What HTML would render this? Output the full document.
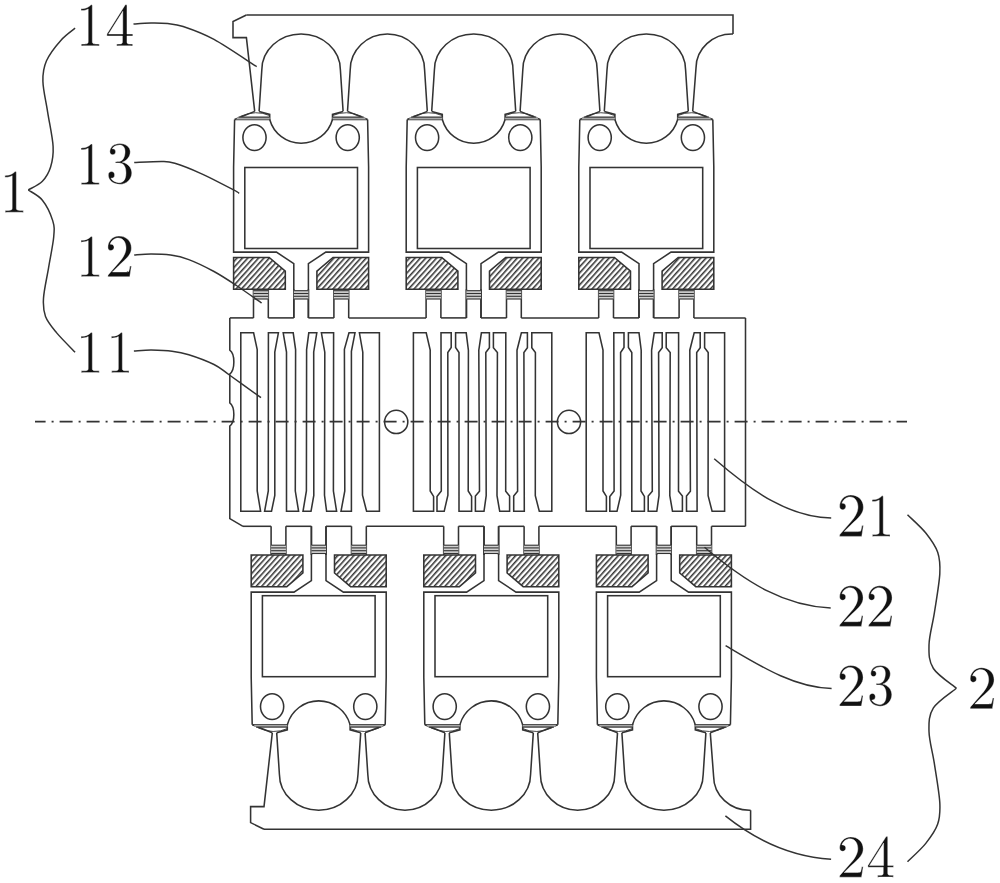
<!DOCTYPE html>
<html><head><meta charset="utf-8"><style>
html,body{margin:0;padding:0;background:#fff;width:1000px;height:883px;overflow:hidden}
svg{display:block}
text{font-family:"Liberation Serif",serif}
</style></head><body>
<svg width="1000" height="883" viewBox="0 0 1000 883">
<defs>
<pattern id="hatch" patternUnits="userSpaceOnUse" width="4" height="4" patternTransform="rotate(42)">
<rect width="4" height="4" fill="#fff"/><line x1="0.75" y1="0" x2="0.75" y2="4" stroke="#333" stroke-width="1.6"/>
</pattern>
<pattern id="hatch2" patternUnits="userSpaceOnUse" width="4" height="4" patternTransform="rotate(-42)">
<rect width="4" height="4" fill="#fff"/><line x1="0.75" y1="0" x2="0.75" y2="4" stroke="#333" stroke-width="1.6"/>
</pattern>
</defs>
<rect width="1000" height="883" fill="#fff"/>
<g fill="none" stroke="#333" stroke-width="1.55" stroke-linejoin="miter">
<g><path d="M246.4,15 H733 V34" />
<path d="M246.4,15 L233,21.6 V37.6 H246.4 L254.7,111.3" />
<path d="M259.1,111.3 L261.8,70 A39.3,36 0 0 1 340.4,70 L343.1,111.3" />
<path d="M347.5,111.3 L350.2,70 A37.2,36 0 0 1 424.6,70 L427.3,111.3" />
<path d="M431.7,111.3 L434.4,70 A39.3,36 0 0 1 513,70 L515.7,111.3" />
<path d="M520.1,111.3 L522.8,70 A37.2,36 0 0 1 597.2,70 L599.9,111.3" />
<path d="M604.3,111.3 L607,70 A39.3,36 0 0 1 685.6,70 L688.3,111.3" />
<path d="M692.7,111.3 L696,68 A36,34 0 0 1 733,34" />
<g transform="translate(0,0)"><path d="M234.6,119.5 L233.6,167 V252.1 H276.4 L293.8,263.6 V317.9" />
<path d="M308.4,317.9 V263.6 L325.8,252.1 H368.6 V167 L367.6,119.5" />
<path d="M234.6,119.5 L254.7,111.4 M259.1,111.4 L269.7,114.4 V119.5 H234.6" />
<path d="M238,117.1 H269.7 V119.5 H236 Z" fill="#a8a8a8" stroke="none"/>
<path d="M238.5,117.1 H269.7" stroke-width="1.2"/>
<path d="M240.5,116.3 Q256,109.5 269.7,115.6" stroke-width="0.9"/>
<path d="M367.6,119.5 L347.5,111.4 M343.1,111.4 L332.5,114.4 V119.5 H367.6" />
<path d="M364.2,117.1 H332.5 V119.5 H366.2 Z" fill="#a8a8a8" stroke="none"/>
<path d="M363.7,117.1 H332.5" stroke-width="1.2"/>
<path d="M361.7,116.3 Q346.2,109.5 332.5,115.6" stroke-width="0.9"/>
<path d="M269.7,119.5 A32.6,32.6 0 0 0 332.5,119.5" />
<ellipse cx="254.5" cy="137.6" rx="11.6" ry="12.9"/>
<ellipse cx="347.7" cy="137.6" rx="11.6" ry="12.9"/>
<rect x="244.8" y="167.5" width="112.7" height="81"/>
<path d="M233.6,257.5 H269.2 L285.3,271.2 V289.2 H233.6 Z" fill="url(#hatch)"/>
<path d="M368.6,257.5 H333 L316.9,271.2 V289.2 H368.6 Z" fill="url(#hatch)"/>
<path d="M253.5,289.2 V317.9 M268.3,289.2 V317.9" />
<path d="M253.5,290.2 H268.3 V299.2 H253.5 Z" fill="#d0d0d0" stroke="none"/>
<path d="M253.5,290.7 H268.3" stroke-width="1.1"/>
<path d="M253.5,293.5 H268.3" stroke-width="1.1"/>
<path d="M253.5,296.3 H268.3" stroke-width="1.1"/>
<path d="M253.5,299.0 H268.3" stroke-width="1.1"/>
<path d="M293.8,289.2 V317.9 M308.4,289.2 V317.9" />
<path d="M293.8,290.2 H308.4 V299.2 H293.8 Z" fill="#d0d0d0" stroke="none"/>
<path d="M293.8,290.7 H308.4" stroke-width="1.1"/>
<path d="M293.8,293.5 H308.4" stroke-width="1.1"/>
<path d="M293.8,296.3 H308.4" stroke-width="1.1"/>
<path d="M293.8,299.0 H308.4" stroke-width="1.1"/>
<path d="M333.9,289.2 V317.9 M348.7,289.2 V317.9" />
<path d="M333.9,290.2 H348.7 V299.2 H333.9 Z" fill="#d0d0d0" stroke="none"/>
<path d="M333.9,290.7 H348.7" stroke-width="1.1"/>
<path d="M333.9,293.5 H348.7" stroke-width="1.1"/>
<path d="M333.9,296.3 H348.7" stroke-width="1.1"/>
<path d="M333.9,299.0 H348.7" stroke-width="1.1"/></g>
<g transform="translate(172.6,0)"><path d="M234.6,119.5 L233.6,167 V252.1 H276.4 L293.8,263.6 V317.9" />
<path d="M308.4,317.9 V263.6 L325.8,252.1 H368.6 V167 L367.6,119.5" />
<path d="M234.6,119.5 L254.7,111.4 M259.1,111.4 L269.7,114.4 V119.5 H234.6" />
<path d="M238,117.1 H269.7 V119.5 H236 Z" fill="#a8a8a8" stroke="none"/>
<path d="M238.5,117.1 H269.7" stroke-width="1.2"/>
<path d="M240.5,116.3 Q256,109.5 269.7,115.6" stroke-width="0.9"/>
<path d="M367.6,119.5 L347.5,111.4 M343.1,111.4 L332.5,114.4 V119.5 H367.6" />
<path d="M364.2,117.1 H332.5 V119.5 H366.2 Z" fill="#a8a8a8" stroke="none"/>
<path d="M363.7,117.1 H332.5" stroke-width="1.2"/>
<path d="M361.7,116.3 Q346.2,109.5 332.5,115.6" stroke-width="0.9"/>
<path d="M269.7,119.5 A32.6,32.6 0 0 0 332.5,119.5" />
<ellipse cx="254.5" cy="137.6" rx="11.6" ry="12.9"/>
<ellipse cx="347.7" cy="137.6" rx="11.6" ry="12.9"/>
<rect x="244.8" y="167.5" width="112.7" height="81"/>
<path d="M233.6,257.5 H269.2 L285.3,271.2 V289.2 H233.6 Z" fill="url(#hatch)"/>
<path d="M368.6,257.5 H333 L316.9,271.2 V289.2 H368.6 Z" fill="url(#hatch)"/>
<path d="M253.5,289.2 V317.9 M268.3,289.2 V317.9" />
<path d="M253.5,290.2 H268.3 V299.2 H253.5 Z" fill="#d0d0d0" stroke="none"/>
<path d="M253.5,290.7 H268.3" stroke-width="1.1"/>
<path d="M253.5,293.5 H268.3" stroke-width="1.1"/>
<path d="M253.5,296.3 H268.3" stroke-width="1.1"/>
<path d="M253.5,299.0 H268.3" stroke-width="1.1"/>
<path d="M293.8,289.2 V317.9 M308.4,289.2 V317.9" />
<path d="M293.8,290.2 H308.4 V299.2 H293.8 Z" fill="#d0d0d0" stroke="none"/>
<path d="M293.8,290.7 H308.4" stroke-width="1.1"/>
<path d="M293.8,293.5 H308.4" stroke-width="1.1"/>
<path d="M293.8,296.3 H308.4" stroke-width="1.1"/>
<path d="M293.8,299.0 H308.4" stroke-width="1.1"/>
<path d="M333.9,289.2 V317.9 M348.7,289.2 V317.9" />
<path d="M333.9,290.2 H348.7 V299.2 H333.9 Z" fill="#d0d0d0" stroke="none"/>
<path d="M333.9,290.7 H348.7" stroke-width="1.1"/>
<path d="M333.9,293.5 H348.7" stroke-width="1.1"/>
<path d="M333.9,296.3 H348.7" stroke-width="1.1"/>
<path d="M333.9,299.0 H348.7" stroke-width="1.1"/></g>
<g transform="translate(345.2,0)"><path d="M234.6,119.5 L233.6,167 V252.1 H276.4 L293.8,263.6 V317.9" />
<path d="M308.4,317.9 V263.6 L325.8,252.1 H368.6 V167 L367.6,119.5" />
<path d="M234.6,119.5 L254.7,111.4 M259.1,111.4 L269.7,114.4 V119.5 H234.6" />
<path d="M238,117.1 H269.7 V119.5 H236 Z" fill="#a8a8a8" stroke="none"/>
<path d="M238.5,117.1 H269.7" stroke-width="1.2"/>
<path d="M240.5,116.3 Q256,109.5 269.7,115.6" stroke-width="0.9"/>
<path d="M367.6,119.5 L347.5,111.4 M343.1,111.4 L332.5,114.4 V119.5 H367.6" />
<path d="M364.2,117.1 H332.5 V119.5 H366.2 Z" fill="#a8a8a8" stroke="none"/>
<path d="M363.7,117.1 H332.5" stroke-width="1.2"/>
<path d="M361.7,116.3 Q346.2,109.5 332.5,115.6" stroke-width="0.9"/>
<path d="M269.7,119.5 A32.6,32.6 0 0 0 332.5,119.5" />
<ellipse cx="254.5" cy="137.6" rx="11.6" ry="12.9"/>
<ellipse cx="347.7" cy="137.6" rx="11.6" ry="12.9"/>
<rect x="244.8" y="167.5" width="112.7" height="81"/>
<path d="M233.6,257.5 H269.2 L285.3,271.2 V289.2 H233.6 Z" fill="url(#hatch)"/>
<path d="M368.6,257.5 H333 L316.9,271.2 V289.2 H368.6 Z" fill="url(#hatch)"/>
<path d="M253.5,289.2 V317.9 M268.3,289.2 V317.9" />
<path d="M253.5,290.2 H268.3 V299.2 H253.5 Z" fill="#d0d0d0" stroke="none"/>
<path d="M253.5,290.7 H268.3" stroke-width="1.1"/>
<path d="M253.5,293.5 H268.3" stroke-width="1.1"/>
<path d="M253.5,296.3 H268.3" stroke-width="1.1"/>
<path d="M253.5,299.0 H268.3" stroke-width="1.1"/>
<path d="M293.8,289.2 V317.9 M308.4,289.2 V317.9" />
<path d="M293.8,290.2 H308.4 V299.2 H293.8 Z" fill="#d0d0d0" stroke="none"/>
<path d="M293.8,290.7 H308.4" stroke-width="1.1"/>
<path d="M293.8,293.5 H308.4" stroke-width="1.1"/>
<path d="M293.8,296.3 H308.4" stroke-width="1.1"/>
<path d="M293.8,299.0 H308.4" stroke-width="1.1"/>
<path d="M333.9,289.2 V317.9 M348.7,289.2 V317.9" />
<path d="M333.9,290.2 H348.7 V299.2 H333.9 Z" fill="#d0d0d0" stroke="none"/>
<path d="M333.9,290.7 H348.7" stroke-width="1.1"/>
<path d="M333.9,293.5 H348.7" stroke-width="1.1"/>
<path d="M333.9,296.3 H348.7" stroke-width="1.1"/>
<path d="M333.9,299.0 H348.7" stroke-width="1.1"/></g></g>
<g transform="translate(17.6,844.2) scale(1,-1)"><path d="M246.4,15 H733 V34" />
<path d="M246.4,15 L233,21.6 V37.6 H246.4 L254.7,111.3" />
<path d="M259.1,111.3 L261.8,70 A39.3,36 0 0 1 340.4,70 L343.1,111.3" />
<path d="M347.5,111.3 L350.2,70 A37.2,36 0 0 1 424.6,70 L427.3,111.3" />
<path d="M431.7,111.3 L434.4,70 A39.3,36 0 0 1 513,70 L515.7,111.3" />
<path d="M520.1,111.3 L522.8,70 A37.2,36 0 0 1 597.2,70 L599.9,111.3" />
<path d="M604.3,111.3 L607,70 A39.3,36 0 0 1 685.6,70 L688.3,111.3" />
<path d="M692.7,111.3 L696,68 A36,34 0 0 1 733,34" />
<g transform="translate(0,0)"><path d="M234.6,119.5 L233.6,167 V252.1 H276.4 L293.8,263.6 V317.9" />
<path d="M308.4,317.9 V263.6 L325.8,252.1 H368.6 V167 L367.6,119.5" />
<path d="M234.6,119.5 L254.7,111.4 M259.1,111.4 L269.7,114.4 V119.5 H234.6" />
<path d="M238,117.1 H269.7 V119.5 H236 Z" fill="#a8a8a8" stroke="none"/>
<path d="M238.5,117.1 H269.7" stroke-width="1.2"/>
<path d="M240.5,116.3 Q256,109.5 269.7,115.6" stroke-width="0.9"/>
<path d="M367.6,119.5 L347.5,111.4 M343.1,111.4 L332.5,114.4 V119.5 H367.6" />
<path d="M364.2,117.1 H332.5 V119.5 H366.2 Z" fill="#a8a8a8" stroke="none"/>
<path d="M363.7,117.1 H332.5" stroke-width="1.2"/>
<path d="M361.7,116.3 Q346.2,109.5 332.5,115.6" stroke-width="0.9"/>
<path d="M269.7,119.5 A32.6,32.6 0 0 0 332.5,119.5" />
<ellipse cx="254.5" cy="137.6" rx="11.6" ry="12.9"/>
<ellipse cx="347.7" cy="137.6" rx="11.6" ry="12.9"/>
<rect x="244.8" y="167.5" width="112.7" height="81"/>
<path d="M233.6,257.5 H269.2 L285.3,271.2 V289.2 H233.6 Z" fill="url(#hatch2)"/>
<path d="M368.6,257.5 H333 L316.9,271.2 V289.2 H368.6 Z" fill="url(#hatch2)"/>
<path d="M253.5,289.2 V317.9 M268.3,289.2 V317.9" />
<path d="M253.5,290.2 H268.3 V299.2 H253.5 Z" fill="#d0d0d0" stroke="none"/>
<path d="M253.5,290.7 H268.3" stroke-width="1.1"/>
<path d="M253.5,293.5 H268.3" stroke-width="1.1"/>
<path d="M253.5,296.3 H268.3" stroke-width="1.1"/>
<path d="M253.5,299.0 H268.3" stroke-width="1.1"/>
<path d="M293.8,289.2 V317.9 M308.4,289.2 V317.9" />
<path d="M293.8,290.2 H308.4 V299.2 H293.8 Z" fill="#d0d0d0" stroke="none"/>
<path d="M293.8,290.7 H308.4" stroke-width="1.1"/>
<path d="M293.8,293.5 H308.4" stroke-width="1.1"/>
<path d="M293.8,296.3 H308.4" stroke-width="1.1"/>
<path d="M293.8,299.0 H308.4" stroke-width="1.1"/>
<path d="M333.9,289.2 V317.9 M348.7,289.2 V317.9" />
<path d="M333.9,290.2 H348.7 V299.2 H333.9 Z" fill="#d0d0d0" stroke="none"/>
<path d="M333.9,290.7 H348.7" stroke-width="1.1"/>
<path d="M333.9,293.5 H348.7" stroke-width="1.1"/>
<path d="M333.9,296.3 H348.7" stroke-width="1.1"/>
<path d="M333.9,299.0 H348.7" stroke-width="1.1"/></g>
<g transform="translate(172.6,0)"><path d="M234.6,119.5 L233.6,167 V252.1 H276.4 L293.8,263.6 V317.9" />
<path d="M308.4,317.9 V263.6 L325.8,252.1 H368.6 V167 L367.6,119.5" />
<path d="M234.6,119.5 L254.7,111.4 M259.1,111.4 L269.7,114.4 V119.5 H234.6" />
<path d="M238,117.1 H269.7 V119.5 H236 Z" fill="#a8a8a8" stroke="none"/>
<path d="M238.5,117.1 H269.7" stroke-width="1.2"/>
<path d="M240.5,116.3 Q256,109.5 269.7,115.6" stroke-width="0.9"/>
<path d="M367.6,119.5 L347.5,111.4 M343.1,111.4 L332.5,114.4 V119.5 H367.6" />
<path d="M364.2,117.1 H332.5 V119.5 H366.2 Z" fill="#a8a8a8" stroke="none"/>
<path d="M363.7,117.1 H332.5" stroke-width="1.2"/>
<path d="M361.7,116.3 Q346.2,109.5 332.5,115.6" stroke-width="0.9"/>
<path d="M269.7,119.5 A32.6,32.6 0 0 0 332.5,119.5" />
<ellipse cx="254.5" cy="137.6" rx="11.6" ry="12.9"/>
<ellipse cx="347.7" cy="137.6" rx="11.6" ry="12.9"/>
<rect x="244.8" y="167.5" width="112.7" height="81"/>
<path d="M233.6,257.5 H269.2 L285.3,271.2 V289.2 H233.6 Z" fill="url(#hatch2)"/>
<path d="M368.6,257.5 H333 L316.9,271.2 V289.2 H368.6 Z" fill="url(#hatch2)"/>
<path d="M253.5,289.2 V317.9 M268.3,289.2 V317.9" />
<path d="M253.5,290.2 H268.3 V299.2 H253.5 Z" fill="#d0d0d0" stroke="none"/>
<path d="M253.5,290.7 H268.3" stroke-width="1.1"/>
<path d="M253.5,293.5 H268.3" stroke-width="1.1"/>
<path d="M253.5,296.3 H268.3" stroke-width="1.1"/>
<path d="M253.5,299.0 H268.3" stroke-width="1.1"/>
<path d="M293.8,289.2 V317.9 M308.4,289.2 V317.9" />
<path d="M293.8,290.2 H308.4 V299.2 H293.8 Z" fill="#d0d0d0" stroke="none"/>
<path d="M293.8,290.7 H308.4" stroke-width="1.1"/>
<path d="M293.8,293.5 H308.4" stroke-width="1.1"/>
<path d="M293.8,296.3 H308.4" stroke-width="1.1"/>
<path d="M293.8,299.0 H308.4" stroke-width="1.1"/>
<path d="M333.9,289.2 V317.9 M348.7,289.2 V317.9" />
<path d="M333.9,290.2 H348.7 V299.2 H333.9 Z" fill="#d0d0d0" stroke="none"/>
<path d="M333.9,290.7 H348.7" stroke-width="1.1"/>
<path d="M333.9,293.5 H348.7" stroke-width="1.1"/>
<path d="M333.9,296.3 H348.7" stroke-width="1.1"/>
<path d="M333.9,299.0 H348.7" stroke-width="1.1"/></g>
<g transform="translate(345.2,0)"><path d="M234.6,119.5 L233.6,167 V252.1 H276.4 L293.8,263.6 V317.9" />
<path d="M308.4,317.9 V263.6 L325.8,252.1 H368.6 V167 L367.6,119.5" />
<path d="M234.6,119.5 L254.7,111.4 M259.1,111.4 L269.7,114.4 V119.5 H234.6" />
<path d="M238,117.1 H269.7 V119.5 H236 Z" fill="#a8a8a8" stroke="none"/>
<path d="M238.5,117.1 H269.7" stroke-width="1.2"/>
<path d="M240.5,116.3 Q256,109.5 269.7,115.6" stroke-width="0.9"/>
<path d="M367.6,119.5 L347.5,111.4 M343.1,111.4 L332.5,114.4 V119.5 H367.6" />
<path d="M364.2,117.1 H332.5 V119.5 H366.2 Z" fill="#a8a8a8" stroke="none"/>
<path d="M363.7,117.1 H332.5" stroke-width="1.2"/>
<path d="M361.7,116.3 Q346.2,109.5 332.5,115.6" stroke-width="0.9"/>
<path d="M269.7,119.5 A32.6,32.6 0 0 0 332.5,119.5" />
<ellipse cx="254.5" cy="137.6" rx="11.6" ry="12.9"/>
<ellipse cx="347.7" cy="137.6" rx="11.6" ry="12.9"/>
<rect x="244.8" y="167.5" width="112.7" height="81"/>
<path d="M233.6,257.5 H269.2 L285.3,271.2 V289.2 H233.6 Z" fill="url(#hatch2)"/>
<path d="M368.6,257.5 H333 L316.9,271.2 V289.2 H368.6 Z" fill="url(#hatch2)"/>
<path d="M253.5,289.2 V317.9 M268.3,289.2 V317.9" />
<path d="M253.5,290.2 H268.3 V299.2 H253.5 Z" fill="#d0d0d0" stroke="none"/>
<path d="M253.5,290.7 H268.3" stroke-width="1.1"/>
<path d="M253.5,293.5 H268.3" stroke-width="1.1"/>
<path d="M253.5,296.3 H268.3" stroke-width="1.1"/>
<path d="M253.5,299.0 H268.3" stroke-width="1.1"/>
<path d="M293.8,289.2 V317.9 M308.4,289.2 V317.9" />
<path d="M293.8,290.2 H308.4 V299.2 H293.8 Z" fill="#d0d0d0" stroke="none"/>
<path d="M293.8,290.7 H308.4" stroke-width="1.1"/>
<path d="M293.8,293.5 H308.4" stroke-width="1.1"/>
<path d="M293.8,296.3 H308.4" stroke-width="1.1"/>
<path d="M293.8,299.0 H308.4" stroke-width="1.1"/>
<path d="M333.9,289.2 V317.9 M348.7,289.2 V317.9" />
<path d="M333.9,290.2 H348.7 V299.2 H333.9 Z" fill="#d0d0d0" stroke="none"/>
<path d="M333.9,290.7 H348.7" stroke-width="1.1"/>
<path d="M333.9,293.5 H348.7" stroke-width="1.1"/>
<path d="M333.9,296.3 H348.7" stroke-width="1.1"/>
<path d="M333.9,299.0 H348.7" stroke-width="1.1"/></g></g>
<path d="M229.8,317.9 H253.5" />
<path d="M268.3,317.9 H293.8" />
<path d="M308.4,317.9 H333.9" />
<path d="M348.7,317.9 H426.1" />
<path d="M440.9,317.9 H466.4" />
<path d="M481,317.9 H506.5" />
<path d="M521.3,317.9 H598.7" />
<path d="M613.5,317.9 H639" />
<path d="M653.6,317.9 H679.1" />
<path d="M693.9,317.9 H745.5" />
<path d="M243,526.3 H271.1" />
<path d="M285.9,526.3 H311.4" />
<path d="M326,526.3 H351.5" />
<path d="M366.3,526.3 H443.7" />
<path d="M458.5,526.3 H484" />
<path d="M498.6,526.3 H524.1" />
<path d="M538.9,526.3 H616.3" />
<path d="M631.1,526.3 H656.6" />
<path d="M671.2,526.3 H696.7" />
<path d="M711.5,526.3 H745.5" />
<path d="M745.5,317.9 V526.3" />
<path d="M229.8,317.9 V350.2 C235.2,354 235.2,370 229.8,374 V402.9 C235.2,407 235.2,422 229.8,426 V518.6 L243,526.3" />
<path d="M240.8,332.8 L253.6,332.8 L257.2,349.6 L257.2,491 L260.6,511.3 L240.8,511.3 Z" />
<path d="M268.4,332.8 L278.4,332.8 L274.8,352 L274.8,495.4 L271.5,511.3 L264.6,511.3 L268.3,491 Z" />
<path d="M283.2,332.8 L293.2,332.8 L295.6,349.6 L295.3,491 L298.6,511.3 L286.5,511.3 L286.5,352 Z" />
<path d="M308.8,332.8 L316.8,332.8 L313.7,352 L313.8,495.4 L311,511.3 L303,511.3 L306.4,491 L306.6,349.6 Z" />
<path d="M321.4,332.8 L333.6,332.8 L333.4,491 L336.6,511.3 L326.6,511.3 L324.5,495.3 L324.8,352.2 Z" />
<path d="M349,332.8 L355,332.8 L351.4,351.4 L351.4,511.3 L341,511.3 L344.8,491 L344.4,349.4 Z" />
<path d="M359.4,332.8 L379.4,332.8 L379.4,511.3 L366.6,511.3 L362.5,495.2 L362.8,352.2 Z" />
<path d="M413.4,332.8 L426.2,332.8 L430.2,350.2 L430.2,491 L433.6,496.4 L433.6,511.3 L413.4,511.3 Z" />
<path d="M441,332.8 L451.2,332.8 L451.2,347.5 L447.8,352.6 L447.9,495.2 L444.2,511.3 L437,511.3 L437,496.4 L441.3,491 Z" />
<path d="M455.6,332.8 L466.2,332.8 L468.4,350.2 L468.2,491 L471.6,496.4 L471.6,511.3 L459,511.3 L459,352.6 L455.6,347.5 Z" />
<path d="M481.4,332.8 L489.4,332.8 L489.4,347.8 L485.8,352.6 L486.2,495.6 L484,511.3 L475.4,511.3 L475.4,496.1 L479.5,491.2 L478.8,350.2 Z" />
<path d="M493.4,332.8 L505.8,332.8 L505.7,491.2 L509.6,496.1 L509.6,511.3 L499.7,511.3 L497,495.6 L497.4,352.6 L493.4,347.8 Z" />
<path d="M521.4,332.8 L527.4,332.8 L527.4,347.8 L523.9,352.6 L524.3,511.3 L513.7,511.3 L513.7,496.1 L517.6,491.2 L517,350.2 Z" />
<path d="M531.8,332.8 L551.8,332.8 L551.8,511.3 L539.3,511.3 L535.3,495.6 L535.4,352.6 L531.8,347.8 Z" />
<path d="M586.2,332.8 L599,332.8 L603,350.2 L603,491 L606.4,496.4 L606.4,511.3 L586.2,511.3 Z" />
<path d="M613.8,332.8 L624,332.8 L624,347.5 L620.6,352.6 L620.7,495.2 L617,511.3 L609.8,511.3 L609.8,496.4 L614.1,491 Z" />
<path d="M628.4,332.8 L639,332.8 L641.2,350.2 L641,491 L644.4,496.4 L644.4,511.3 L631.8,511.3 L631.8,352.6 L628.4,347.5 Z" />
<path d="M654.2,332.8 L662.2,332.8 L662.2,347.8 L658.6,352.6 L659,495.6 L656.8,511.3 L648.2,511.3 L648.2,496.1 L652.3,491.2 L651.6,350.2 Z" />
<path d="M666.2,332.8 L678.6,332.8 L678.5,491.2 L682.4,496.1 L682.4,511.3 L672.5,511.3 L669.8,495.6 L670.2,352.6 L666.2,347.8 Z" />
<path d="M694.2,332.8 L700.2,332.8 L700.2,347.8 L696.7,352.6 L697.1,511.3 L686.5,511.3 L686.5,496.1 L690.4,491.2 L689.8,350.2 Z" />
<path d="M704.6,332.8 L724.6,332.8 L724.6,511.3 L712.1,511.3 L708.1,495.6 L708.2,352.6 L704.6,347.8 Z" />
<circle cx="396.2" cy="421.9" r="11.6"/>
<circle cx="569" cy="421.9" r="11.6"/>
<path d="M35,421.7 H907" stroke-dasharray="13 6 2 6" stroke-dashoffset="2.4" stroke-width="1.7"/>
<path d="M133.5,24 C136.4,23.8 145.3,23.1 151,23 C156.7,22.9 162.4,23 167.8,23.6 C173.2,24.2 175.5,23.9 183.2,26.5 C190.9,29.1 201.8,32.7 214,39.4 C226.2,46.1 249.6,62.2 256.7,66.7" stroke-width="1.5"/>
<path d="M134.2,162.6 C138.9,162.4 155.4,161.4 162.2,161.5 C169,161.6 168.5,161.4 174.8,163.3 C181.1,165.2 190.2,168.7 200,173.1 C209.8,177.5 227.1,186.5 233.6,189.9 C240.1,193.3 238.3,192.8 239.2,193.4" stroke-width="1.5"/>
<path d="M134.2,255.1 C137,254.9 144.9,254 151,254 C157.1,254 164.3,254.2 170.6,255.1 C176.9,256 181.6,256.9 188.8,259.6 C196,262.3 206.1,267.2 214,271.5 C221.9,275.8 228.5,280.2 236.4,285.5 C244.3,290.8 257.5,300.1 261.7,303" stroke-width="1.5"/>
<path d="M133.9,350.9 C136.8,350.8 144.7,350.1 151,350.1 C157.3,350.2 165.7,350.4 172,351.2 C178.3,352 181.8,352.5 188.8,354.7 C195.8,356.9 207.2,361.1 214,364.5 C220.8,367.9 221.6,369.5 229.4,375 C237.2,380.5 255.7,393.9 261,397.7" stroke-width="1.5"/>
<path d="M714.2,458.7 C755,494 790,517 831.2,518" stroke-width="1.5"/>
<path d="M704.5,547.3 C748,584 785,606 830.7,608" stroke-width="1.5"/>
<path d="M725.6,645.6 C760,666 795,688 831.6,688.4" stroke-width="1.5"/>
<path d="M725.4,815.9 C758,842 795,857 831.1,859.3" stroke-width="1.5"/>
<path d="M75.1,28.2 C72.7,30.2 65.6,35 60.8,40.4 C56,45.8 49.5,54 46.5,60.8 C43.5,67.6 42.7,72.7 42.9,81.2 C43.1,89.7 45.9,100.9 47.6,111.8 C49.3,122.7 52.6,137.3 53.1,146.5 C53.6,155.7 52.4,161.2 50.6,167 C48.8,172.8 46.1,177.4 42.4,181.2 C38.7,185 30.6,188.5 28.3,190" stroke-width="1.5"/>
<path d="M28.3,190 C30.6,191.7 38.3,195.1 42.4,200.2 C46.5,205.3 50.8,214.5 52.7,220.6 C54.6,226.7 54.4,229.2 53.7,237 C53,244.8 50.3,257.4 48.6,267.6 C46.9,277.8 44,290.1 43.5,298.2 C43,306.3 43.3,310.7 45.5,316.5 C47.7,322.3 51.8,326.9 56.7,332.9 C61.6,338.8 72,349 75.1,352.2" stroke-width="1.5"/>
<path d="M907.5,514.7 C910.5,517.8 920.8,526.7 925.8,533 C930.8,539.3 935.4,545.5 937.7,552.3 C940,559.1 940.3,563.8 939.8,573.9 C939.2,584 936.2,600.8 934.4,612.6 C932.6,624.4 929.2,635.6 929,644.9 C928.8,654.2 928.8,661.3 933.4,668.5 C938,675.7 952.6,684.9 956.4,688.2" stroke-width="1.5"/>
<path d="M956.4,688.2 C952.6,691.5 938,700.7 933.4,707.9 C928.8,715.1 928.8,722.2 929,731.5 C929.2,740.8 932.6,752 934.4,763.8 C936.2,775.6 939.2,792.5 939.8,802.5 C940.3,812.5 940,817.3 937.7,824.1 C935.4,830.9 930.8,837.1 925.8,843.4 C920.8,849.7 910.5,858.7 907.5,861.7" stroke-width="1.5"/>
</g>
<g fill="#111" stroke="#fff" stroke-width="0.4">
<path d="M99.2 46V44.08H97.44C92.47 44.08 92.31 43.4 92.31 41.1V6.31C92.31 4.82 92.31 4.7 91.04 4.7C87.62 8.67 82.76 8.67 81 8.67V10.59C82.1 10.59 85.36 10.59 88.22 8.98V41.1C88.22 43.33 88.06 44.08 83.1 44.08H81.33V46C83.26 45.81 88.06 45.81 90.27 45.81C92.47 45.81 97.27 45.81 99.2 46Z"/>
<path d="M132.8 35.93V34.04H126.95V6.29C126.95 5.07 126.95 4.7 126.02 4.7C125.49 4.7 125.32 4.7 124.85 5.43L106.9 34.04V35.93H122.45V41.24C122.45 43.44 122.33 44.11 118.01 44.11H116.78V46C119.18 45.82 122.22 45.82 124.67 45.82C127.13 45.82 130.23 45.82 132.62 46V44.11H131.4C127.07 44.11 126.95 43.44 126.95 41.24V35.93ZM122.8 34.04H108.54L122.8 11.29Z"/>
<path d="M99.2 184.6V182.71H97.44C92.47 182.71 92.31 182.04 92.31 179.78V145.58C92.31 144.12 92.31 144 91.04 144C87.62 147.9 82.76 147.9 81 147.9V149.79C82.1 149.79 85.36 149.79 88.22 148.21V179.78C88.22 181.98 88.06 182.71 83.1 182.71H81.33V184.6C83.26 184.42 88.06 184.42 90.27 184.42C92.47 184.42 97.27 184.42 99.2 184.6Z"/>
<path d="M131.8 172.88C131.8 168.03 128.23 163.42 122.34 162.18C126.99 160.58 130.27 156.44 130.27 151.76C130.27 146.91 125.29 143.6 119.85 143.6C114.13 143.6 109.83 147.15 109.83 151.65C109.83 153.6 111.07 154.72 112.72 154.72C114.47 154.72 115.6 153.42 115.6 151.7C115.6 148.75 112.94 148.75 112.09 148.75C113.85 145.85 117.59 145.08 119.63 145.08C121.95 145.08 125.06 146.38 125.06 151.7C125.06 152.41 124.95 155.85 123.48 158.45C121.78 161.29 119.85 161.47 118.44 161.52C117.98 161.58 116.62 161.7 116.23 161.7C115.77 161.76 115.38 161.82 115.38 162.41C115.38 163.06 115.77 163.06 116.74 163.06H119.23C123.87 163.06 125.97 167.09 125.97 172.88C125.97 180.93 122.06 182.64 119.57 182.64C117.13 182.64 112.89 181.64 110.9 178.15C112.89 178.44 114.64 177.14 114.64 174.89C114.64 172.76 113.11 171.58 111.47 171.58C110.11 171.58 108.3 172.41 108.3 175.01C108.3 180.4 113.57 184.3 119.74 184.3C126.65 184.3 131.8 178.92 131.8 172.88Z"/>
<path d="M99.2 276.7V274.82H97.44C92.47 274.82 92.31 274.16 92.31 271.92V237.97C92.31 236.52 92.31 236.4 91.04 236.4C87.62 240.27 82.76 240.27 81 240.27V242.15C82.1 242.15 85.36 242.15 88.22 240.58V271.92C88.22 274.1 88.06 274.82 83.1 274.82H81.33V276.7C83.26 276.52 88.06 276.52 90.27 276.52C92.47 276.52 97.27 276.52 99.2 276.7Z"/>
<path d="M131.4 266.09H129.93C129.63 267.92 129.22 270.6 128.63 271.52C128.22 272.01 124.33 272.01 123.04 272.01H112.44L118.68 265.73C127.87 257.31 131.4 254.02 131.4 247.93C131.4 240.98 126.1 236.1 118.91 236.1C112.26 236.1 107.9 241.71 107.9 247.13C107.9 250.55 110.84 250.55 111.02 250.55C112.02 250.55 114.08 249.82 114.08 247.32C114.08 245.73 113.02 244.15 110.96 244.15C110.49 244.15 110.37 244.15 110.2 244.21C111.55 240.25 114.73 237.99 118.15 237.99C123.51 237.99 126.04 242.93 126.04 247.93C126.04 252.8 123.1 257.62 119.86 261.4L108.55 274.44C107.9 275.12 107.9 275.24 107.9 276.7H129.75Z"/>
<path d="M99.2 372.7V370.82H97.44C92.47 370.82 92.31 370.16 92.31 367.92V333.97C92.31 332.52 92.31 332.4 91.04 332.4C87.62 336.27 82.76 336.27 81 336.27V338.15C82.1 338.15 85.36 338.15 88.22 336.58V367.92C88.22 370.1 88.06 370.82 83.1 370.82H81.33V372.7C83.26 372.52 88.06 372.52 90.27 372.52C92.47 372.52 97.27 372.52 99.2 372.7Z"/>
<path d="M129 372.7V370.82H127.29C122.49 370.82 122.33 370.16 122.33 367.92V333.97C122.33 332.52 122.33 332.4 121.11 332.4C117.8 336.27 113.11 336.27 111.4 336.27V338.15C112.47 338.15 115.61 338.15 118.39 336.58V367.92C118.39 370.1 118.23 370.82 113.43 370.82H111.72V372.7C113.59 372.52 118.23 372.52 120.36 372.52C122.49 372.52 127.13 372.52 129 372.7Z"/>
<path d="M23.3 212.4V210.5H21.52C16.5 210.5 16.33 209.82 16.33 207.55V173.1C16.33 171.62 16.33 171.5 15.05 171.5C11.59 175.43 6.68 175.43 4.9 175.43V177.33C6.02 177.33 9.3 177.33 12.2 175.74V207.55C12.2 209.76 12.04 210.5 7.02 210.5H5.23V212.4C7.19 212.22 12.04 212.22 14.27 212.22C16.5 212.22 21.35 212.22 23.3 212.4Z"/>
<path d="M863.4 525.58H861.91C861.61 527.45 861.19 530.18 860.6 531.12C860.18 531.61 856.24 531.61 854.93 531.61H844.19L850.52 525.21C859.82 516.63 863.4 513.28 863.4 507.06C863.4 499.97 858.03 495 850.75 495C844.01 495 839.6 500.72 839.6 506.25C839.6 509.73 842.58 509.73 842.76 509.73C843.78 509.73 845.86 508.99 845.86 506.44C845.86 504.82 844.79 503.21 842.7 503.21C842.22 503.21 842.11 503.21 841.93 503.27C843.3 499.23 846.52 496.93 849.98 496.93C855.41 496.93 857.97 501.96 857.97 507.06C857.97 512.03 854.99 516.94 851.71 520.8L840.26 534.1C839.6 534.78 839.6 534.91 839.6 536.4H861.73Z"/>
<path d="M890 536.4V534.51H888.26C883.38 534.51 883.22 533.84 883.22 531.58V497.38C883.22 495.92 883.22 495.8 881.97 495.8C878.61 499.7 873.84 499.7 872.1 499.7V501.59C873.18 501.59 876.39 501.59 879.21 500.01V531.58C879.21 533.78 879.04 534.51 874.16 534.51H872.43V536.4C874.32 536.22 879.04 536.22 881.21 536.22C883.38 536.22 888.1 536.22 890 536.4Z"/>
<path d="M863.1 615.79H861.63C861.33 617.62 860.92 620.3 860.33 621.22C859.92 621.71 856.03 621.71 854.74 621.71H844.14L850.38 615.43C859.57 607.01 863.1 603.72 863.1 597.63C863.1 590.68 857.8 585.8 850.61 585.8C843.96 585.8 839.6 591.41 839.6 596.83C839.6 600.25 842.54 600.25 842.72 600.25C843.72 600.25 845.78 599.52 845.78 597.02C845.78 595.43 844.72 593.85 842.66 593.85C842.19 593.85 842.07 593.85 841.9 593.91C843.25 589.95 846.43 587.69 849.85 587.69C855.21 587.69 857.74 592.63 857.74 597.63C857.74 602.5 854.8 607.32 851.56 611.1L840.25 624.14C839.6 624.82 839.6 624.94 839.6 626.4H861.45Z"/>
<path d="M892.1 615.79H890.63C890.33 617.62 889.92 620.3 889.33 621.22C888.92 621.71 885.03 621.71 883.74 621.71H873.14L879.38 615.43C888.57 607.01 892.1 603.72 892.1 597.63C892.1 590.68 886.8 585.8 879.61 585.8C872.96 585.8 868.6 591.41 868.6 596.83C868.6 600.25 871.54 600.25 871.72 600.25C872.72 600.25 874.78 599.52 874.78 597.02C874.78 595.43 873.72 593.85 871.66 593.85C871.19 593.85 871.07 593.85 870.9 593.91C872.25 589.95 875.43 587.69 878.85 587.69C884.21 587.69 886.74 592.63 886.74 597.63C886.74 602.5 883.8 607.32 880.56 611.1L869.25 624.14C868.6 624.82 868.6 624.94 868.6 626.4H890.45Z"/>
<path d="M863.1 695.49H861.63C861.33 697.32 860.92 700 860.33 700.92C859.92 701.41 856.03 701.41 854.74 701.41H844.14L850.38 695.13C859.57 686.71 863.1 683.42 863.1 677.33C863.1 670.38 857.8 665.5 850.61 665.5C843.96 665.5 839.6 671.11 839.6 676.53C839.6 679.95 842.54 679.95 842.72 679.95C843.72 679.95 845.78 679.22 845.78 676.72C845.78 675.13 844.72 673.55 842.66 673.55C842.19 673.55 842.07 673.55 841.9 673.61C843.25 669.65 846.43 667.39 849.85 667.39C855.21 667.39 857.74 672.33 857.74 677.33C857.74 682.2 854.8 687.02 851.56 690.8L840.25 703.84C839.6 704.52 839.6 704.64 839.6 706.1H861.45Z"/>
<path d="M891.8 694.78C891.8 689.93 888.38 685.32 882.75 684.08C887.19 682.48 890.34 678.34 890.34 673.66C890.34 668.81 885.57 665.5 880.36 665.5C874.88 665.5 870.76 669.05 870.76 673.55C870.76 675.5 871.96 676.62 873.53 676.62C875.21 676.62 876.29 675.32 876.29 673.6C876.29 670.65 873.75 670.65 872.93 670.65C874.61 667.75 878.19 666.98 880.14 666.98C882.37 666.98 885.35 668.28 885.35 673.6C885.35 674.31 885.24 677.75 883.83 680.35C882.2 683.19 880.36 683.37 879 683.42C878.57 683.48 877.27 683.6 876.89 683.6C876.46 683.66 876.08 683.72 876.08 684.31C876.08 684.96 876.46 684.96 877.38 684.96H879.76C884.21 684.96 886.22 688.99 886.22 694.78C886.22 702.83 882.47 704.54 880.09 704.54C877.76 704.54 873.69 703.54 871.79 700.05C873.69 700.34 875.37 699.04 875.37 696.79C875.37 694.66 873.91 693.48 872.34 693.48C871.03 693.48 869.3 694.31 869.3 696.91C869.3 702.3 874.34 706.2 880.25 706.2C886.87 706.2 891.8 700.82 891.8 694.78Z"/>
<path d="M863.2 866.67H861.72C861.43 868.49 861.01 871.15 860.42 872.06C860.01 872.54 856.1 872.54 854.8 872.54H844.15L850.42 866.31C859.65 857.96 863.2 854.69 863.2 848.64C863.2 841.74 857.88 836.9 850.66 836.9C843.98 836.9 839.6 842.47 839.6 847.85C839.6 851.24 842.56 851.24 842.73 851.24C843.74 851.24 845.81 850.51 845.81 848.03C845.81 846.46 844.75 844.89 842.68 844.89C842.2 844.89 842.08 844.89 841.91 844.95C843.27 841.01 846.46 838.78 849.89 838.78C855.27 838.78 857.82 843.68 857.82 848.64C857.82 853.48 854.86 858.26 851.61 862.01L840.25 874.96C839.6 875.63 839.6 875.75 839.6 877.2H861.54Z"/>
<path d="M893.5 867.3V865.45H887.72V838.16C887.72 836.96 887.72 836.6 886.8 836.6C886.28 836.6 886.1 836.6 885.64 837.32L867.9 865.45V867.3H883.27V872.52C883.27 874.68 883.16 875.34 878.88 875.34H877.67V877.2C880.04 877.02 883.04 877.02 885.47 877.02C887.89 877.02 890.96 877.02 893.33 877.2V875.34H892.11C887.84 875.34 887.72 874.68 887.72 872.52V867.3ZM883.62 865.45H869.52L883.62 843.08Z"/>
<path d="M994.1 697.99H992.6C992.3 699.84 991.88 702.54 991.28 703.47C990.87 703.96 986.91 703.96 985.59 703.96H974.81L981.16 697.62C990.51 689.12 994.1 685.8 994.1 679.64C994.1 672.62 988.71 667.7 981.4 667.7C974.63 667.7 970.2 673.36 970.2 678.84C970.2 682.29 973.19 682.29 973.37 682.29C974.39 682.29 976.49 681.55 976.49 679.03C976.49 677.43 975.41 675.83 973.31 675.83C972.84 675.83 972.72 675.83 972.54 675.89C973.91 671.89 977.15 669.61 980.62 669.61C986.07 669.61 988.65 674.59 988.65 679.64C988.65 684.57 985.65 689.43 982.36 693.25L970.86 706.42C970.2 707.1 970.2 707.22 970.2 708.7H992.42Z"/>
</g>
</svg>
</body></html>
